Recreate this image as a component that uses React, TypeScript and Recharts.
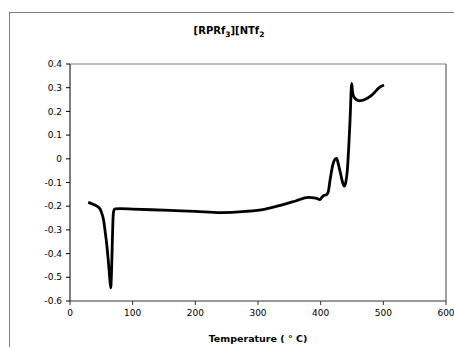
import { LineChart, Line, XAxis, YAxis, ReferenceLine, Label } from "recharts";

// DSC trace
const temperature = [
	29, 35, 43, 48, 51, 54, 56, 59, 61, 63, 65, 66, 67.5, 69, 70.5, 72, 80, 100,
	130, 160, 200, 240, 280, 310, 340, 360, 380, 392, 399, 402, 405, 409, 412,
	415, 419, 422, 425.5, 428, 432, 435, 437.7, 440, 442.5, 445, 447, 449.5, 451,
	453, 457, 462, 466, 472, 479, 486, 492, 501,
];
const heatFlow = [
	-0.184, -0.19, -0.2, -0.212, -0.232, -0.265, -0.305, -0.37, -0.427, -0.49,
	-0.544, -0.5, -0.355, -0.235, -0.214, -0.211, -0.21, -0.212, -0.215, -0.218,
	-0.222, -0.227, -0.222, -0.213, -0.193, -0.178, -0.163, -0.166, -0.172,
	-0.162, -0.155, -0.152, -0.14, -0.09, -0.03, -0.005, 0.002, -0.02, -0.065,
	-0.1, -0.115, -0.1, -0.05, 0.06, 0.17, 0.318, 0.28, 0.262, 0.25, 0.245,
	0.246, 0.252, 0.263, 0.28, 0.297, 0.311,
];
const xTicks = [0, 100, 200, 300, 400, 500, 600];
const yTicks = [-0.6, -0.5, -0.4, -0.3, -0.2, -0.1, 0, 0.1, 0.2, 0.3, 0.4];

const data = temperature.map((t, i) => ({ t, v: heatFlow[i] }));

const font = "Verdana, 'DejaVu Sans', sans-serif";
const tickStyle = { fontSize: 9, fill: "#000", fontFamily: font };

export default function App() {
	return (
		<div
			style={{
				position: "absolute",
				left: 0,
				top: 0,
				width: 454,
				height: 347,
				overflow: "hidden",
				background: "#fff",
			}}>
			<div
				style={{
					position: "absolute",
					left: 9,
					top: 12,
					width: 500,
					height: 400,
					border: "1px solid #7f7f7f",
				}}
			/>
			<div
				style={{
					position: "absolute",
					left: 0,
					width: 458,
					top: 25,
					textAlign: "center",
					fontFamily: font,
					fontSize: 10,
					fontWeight: "bold",
				}}>
				[RPRf<sub style={{ fontSize: 7.5 }}>3</sub>][NTf<sub style={{ fontSize: 7.5 }}>2</sub>
			</div>
			<LineChart
				width={454}
				height={347}
				data={data}
				margin={{ top: 64, right: 8, bottom: 0, left: 20 }}
				style={{ position: "absolute", left: 0, top: 0 }}>
				<ReferenceLine y={0.4} stroke="#808080" strokeWidth={1} />
				<ReferenceLine x={600} stroke="#808080" strokeWidth={1.5} />
				<XAxis
					dataKey="t"
					type="number"
					domain={[0, 600]}
					ticks={xTicks}
					interval={0}
					tick={tickStyle}
					tickSize={4}
					tickMargin={5}
					stroke="#333"
					height={46}>
					<Label
						value="Temperature ( ° C)"
						position="insideBottom"
						offset={5}
						style={{ fontSize: 9.5, fontWeight: "bold", fill: "#000", fontFamily: font }}
					/>
				</XAxis>
				<YAxis
					type="number"
					domain={[-0.6, 0.4]}
					ticks={yTicks}
					interval={0}
					tick={tickStyle}
					tickSize={4}
					tickMargin={4}
					stroke="#000"
					width={50}
					allowDataOverflow
				/>
				<Line
					dataKey="v"
					type="monotone"
					stroke="#000"
					strokeWidth={2.8}
					dot={false}
					isAnimationActive={false}
				/>
			</LineChart>
		</div>
	);
}
